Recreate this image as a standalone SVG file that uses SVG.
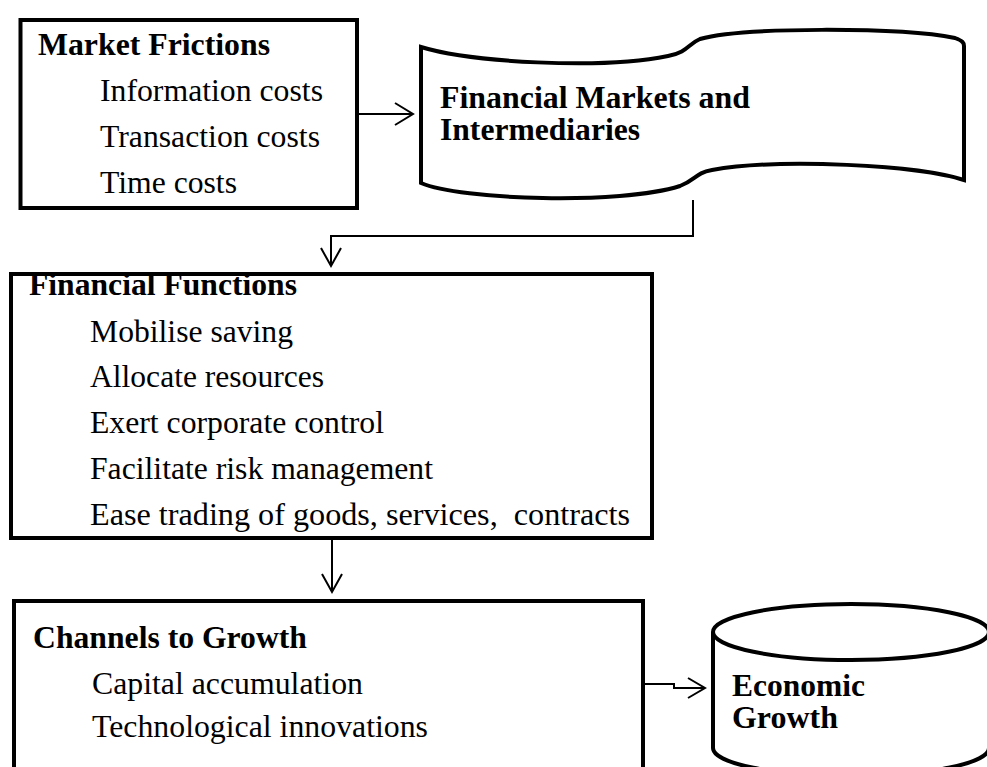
<svg xmlns="http://www.w3.org/2000/svg" width="987" height="767" viewBox="0 0 987 767">
<style>
.box{fill:#fff;stroke:#000;stroke-width:4}
.conn{fill:none;stroke:#000;stroke-width:2}
.head{fill:none;stroke:#000;stroke-width:2}
.t{font-size:31.5px;font-weight:bold}
.i{font-size:31.5px}
.b{font-size:31.5px;font-weight:bold}
</style>
<rect width="987" height="767" fill="#fff"/>
<g id="market-frictions" font-family="Liberation Serif">
<rect class="box" x="20.5" y="20" width="336.5" height="188"/>
<text class="t" x="38" y="55" textLength="232" lengthAdjust="spacingAndGlyphs">Market Frictions</text>
<text class="i" x="100" y="101" textLength="223" lengthAdjust="spacingAndGlyphs">Information costs</text>
<text class="i" x="100" y="147" textLength="220" lengthAdjust="spacingAndGlyphs">Transaction costs</text>
<text class="i" x="100" y="193" textLength="137" lengthAdjust="spacingAndGlyphs">Time costs</text>
</g>
<g id="financial-markets" font-family="Liberation Serif">
<path class="box" d="M421,47 C470,62 600,70 668,56 C688,52 688,44 700,39 C740,27 900,27 955,38 C963,41 964,43 964,46 L964,180 C920,165 780,158 712,170 C695,173 696,180 680,186 C620,205 460,200 421,183 Z"/>
<text class="b" x="440" y="108" textLength="310" lengthAdjust="spacingAndGlyphs">Financial Markets and</text>
<text class="b" x="440" y="140" textLength="200" lengthAdjust="spacingAndGlyphs">Intermediaries</text>
</g>
<g id="financial-functions" font-family="Liberation Serif">
<rect class="box" x="11" y="274" width="641" height="264"/>
<text class="t" x="29" y="295" textLength="268" lengthAdjust="spacingAndGlyphs">Financial Functions</text>
<text class="i" x="90" y="342" textLength="203" lengthAdjust="spacingAndGlyphs">Mobilise saving</text>
<text class="i" x="90" y="387" textLength="234" lengthAdjust="spacingAndGlyphs">Allocate resources</text>
<text class="i" x="90" y="433" textLength="294" lengthAdjust="spacingAndGlyphs">Exert corporate control</text>
<text class="i" x="90" y="479" textLength="343" lengthAdjust="spacingAndGlyphs">Facilitate risk management</text>
<text class="i" x="90" y="525" textLength="540" lengthAdjust="spacingAndGlyphs" xml:space="preserve">Ease trading of goods, services,  contracts</text>
</g>
<g id="channels-to-growth" font-family="Liberation Serif">
<rect class="box" x="14" y="601" width="629" height="200"/>
<text class="t" x="33" y="648" textLength="274" lengthAdjust="spacingAndGlyphs">Channels to Growth</text>
<text class="i" x="92" y="694" textLength="271" lengthAdjust="spacingAndGlyphs">Capital accumulation</text>
<text class="i" x="92" y="737" textLength="336" lengthAdjust="spacingAndGlyphs">Technological innovations</text>
</g>
<g id="economic-growth" font-family="Liberation Serif">
<path class="box" d="M713,632 V748 A138,28 0 0 0 989,748 V632"/>
<ellipse class="box" cx="851" cy="632" rx="138" ry="28"/>
<text class="b" x="732" y="696" textLength="133" lengthAdjust="spacingAndGlyphs">Economic</text>
<text class="b" x="732" y="728" textLength="106" lengthAdjust="spacingAndGlyphs">Growth</text>
</g>
<g id="connectors">
<path class="conn" d="M357,114 H412"/>
<path class="head" d="M395,103 L413,114 L395,125"/>
<path class="conn" d="M693,200 V236 H331 V264"/>
<path class="head" d="M321,248 L331,266 L341,248"/>
<path class="conn" d="M332,538 V590"/>
<path class="head" d="M322,574 L332,592 L342,574"/>
<path class="conn" d="M643,684 H674 V688 H704"/>
<path class="head" d="M688,678 L705,688 L688,698"/>
</g>
</svg>
